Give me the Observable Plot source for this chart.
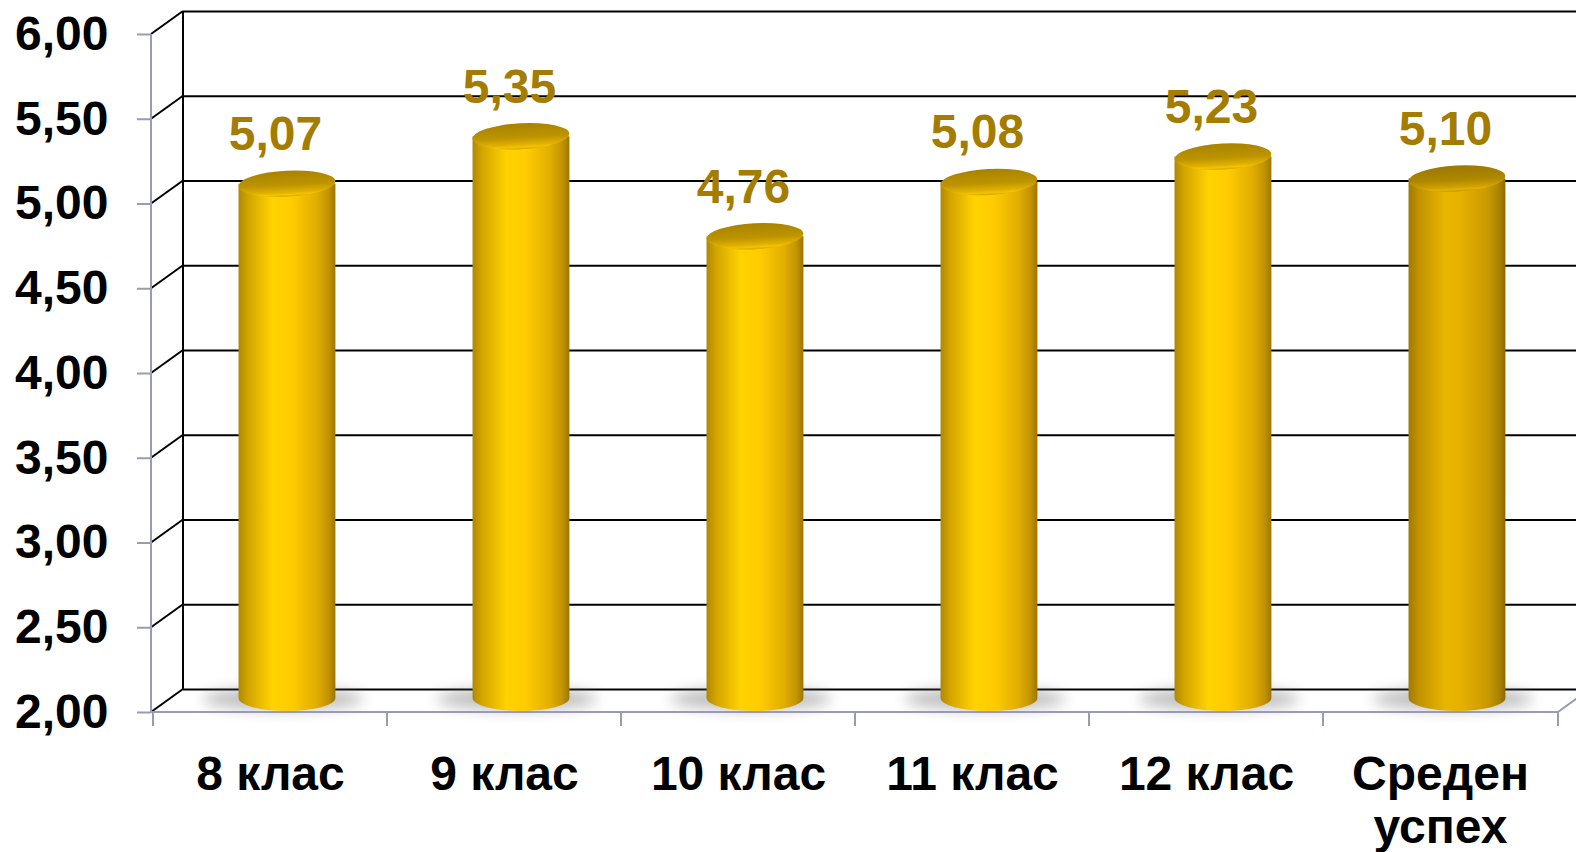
<!DOCTYPE html>
<html><head><meta charset="utf-8">
<script src="https://cdn.jsdelivr.net/npm/d3@7"></script>
<script src="https://cdn.jsdelivr.net/npm/@observablehq/plot@0.6"></script>
<style>html,body{margin:0;padding:0;background:#fff;overflow:hidden}</style>
</head><body><div id="chart"></div>
<script>
// ---- data ----
const categories = ["8 клас", "9 клас", "10 клас", "11 клас", "12 клас", "Среден\nуспех"];
const values = [5.07, 5.35, 4.76, 5.08, 5.23, 5.10];
const yTicks = [2, 2.5, 3, 3.5, 4, 4.5, 5, 5.5, 6];
const fmt = d => d3.format(".2f")(d).replace(".", ",");

const data = categories.map((c, i) => ({category: c, value: values[i], average: i === categories.length - 1}));

// ---- style ----
const DEPTH_X = 32, DEPTH_Y = -23;
const AXIS_GREY = "#9a9ab6";
const FONT = "'Liberation Sans', Arial, Helvetica, sans-serif";
const yMin = d3.min(yTicks), yMax = d3.max(yTicks);

function walls(index, scales, vals, dim) {
  const {y} = scales;
  const x0 = dim.marginLeft;
  const g = d3.create("svg:g").attr("fill", "none").attr("stroke", "#000").attr("stroke-width", 2);
  g.selectAll("line.d").data(yTicks).join("line")
    .attr("x1", x0).attr("y1", d => y(d))
    .attr("x2", x0 + DEPTH_X).attr("y2", d => y(d) + DEPTH_Y);
  g.append("line")
    .attr("x1", x0 + DEPTH_X).attr("x2", x0 + DEPTH_X)
    .attr("y1", y(yMax) + DEPTH_Y).attr("y2", y(yMin) + DEPTH_Y);
  return g.node();
}

function cylinders(index, scales, vals, dim) {
  const {x, y} = scales;
  const bw = x.bandwidth();
  const rx = bw * 0.207, ry = 13;
  const g = d3.create("svg:g");
  const defs = g.append("defs");
  const lin = (id, stops, vertical) => {
    const gr = defs.append("linearGradient").attr("id", id)
      .attr("x1", 0).attr("y1", 0).attr("x2", vertical ? 0 : 1).attr("y2", vertical ? 1 : 0);
    stops.forEach(([o, c]) => gr.append("stop").attr("offset", o).attr("stop-color", c));
  };
  lin("bodyG", [[0, "#B08800"], [0.1, "#D3A500"], [0.35, "#FFD200"], [0.55, "#FFCC00"], [0.8, "#E2AE00"], [0.93, "#C29300"], [1, "#9A7500"]]);
  lin("bodyA", [[0, "#A07A00"], [0.1, "#C09200"], [0.38, "#EAB500"], [0.55, "#E6B000"], [0.82, "#C89900"], [0.94, "#A98100"], [1, "#8A6800"]]);
  lin("topG", [[0, "#A88200"], [0.55, "#BD9400"], [0.82, "#E0B000"], [0.92, "#F2C400"], [1, "#D0A400"]], true);
  lin("topA", [[0, "#9C7800"], [0.55, "#AE8800"], [0.82, "#CFA000"], [0.92, "#E2B200"], [1, "#C09400"]], true);
  defs.append("filter").attr("id", "blur").attr("x", "-50%").attr("y", "-100%").attr("width", "200%").attr("height", "300%")
    .append("feGaussianBlur").attr("stdDeviation", 7);

  data.forEach(d => {
    const cx = x(d.category) + bw / 2 + DEPTH_X * 0.53;
    const yTop = y(d.value) - 8;
    const yBot = y(yMin) - 14;
    g.append("ellipse").attr("cx", cx - 4).attr("cy", yBot + 1).attr("rx", rx + 32).attr("ry", 11)
      .attr("fill", "#707070").attr("opacity", 0.45).attr("filter", "url(#blur)");
    g.append("path")
      .attr("d", `M${cx - rx},${yTop} L${cx - rx},${yBot} A${rx},${ry} 0 0 0 ${cx + rx},${yBot} L${cx + rx},${yTop} Z`)
      .attr("fill", d.average ? "url(#bodyA)" : "url(#bodyG)");
    g.append("ellipse").attr("cx", cx).attr("cy", yTop).attr("rx", rx).attr("ry", ry)
      .attr("transform", `rotate(-3 ${cx} ${yTop})`)
      .attr("fill", d.average ? "url(#topA)" : "url(#topG)");
  });
  return g.node();
}

function frontFrame(index, scales, vals, dim) {
  const {x, y} = scales;
  const x0 = dim.marginLeft, x1 = dim.width - dim.marginRight;
  const yb = y(yMin);
  const g = d3.create("svg:g").attr("fill", "none").attr("stroke", AXIS_GREY).attr("stroke-width", 2);
  g.append("line").attr("x1", x0).attr("x2", x0).attr("y1", y(yMax)).attr("y2", yb);
  g.append("line").attr("x1", x0).attr("x2", x1).attr("y1", yb).attr("y2", yb);
  g.append("line").attr("x1", x1).attr("x2", x1 + DEPTH_X).attr("y1", yb).attr("y2", yb + DEPTH_Y);
  const edges = categories.map(c => x(c)).concat([x1]);
  g.selectAll("line.t").data(edges).join("line")
    .attr("x1", d => d).attr("x2", d => d).attr("y1", yb).attr("y2", yb + 14);
  return g.node();
}

const chart = Plot.plot({
  width: 1576, height: 852,
  marginLeft: 151, marginRight: 18, marginTop: 34, marginBottom: 140,
  x: {type: "band", domain: categories, padding: 0},
  y: {domain: [yMin, yMax]},
  style: {fontFamily: FONT, background: "white", overflow: "hidden"},
  marks: [
    Plot.ruleY(yTicks, {dx: DEPTH_X, dy: DEPTH_Y, stroke: "#000", strokeWidth: 2}),
    walls,
    cylinders,
    frontFrame,
    Plot.text(data, {x: "category", y: "value", text: d => fmt(d.value), dx: 5, dy: -42,
      lineAnchor: "bottom", fill: "#A47D00", fontSize: 48, fontWeight: "bold"}),
    Plot.axisY(yTicks, {tickSize: 14, tickPadding: 29, tickFormat: fmt, stroke: AXIS_GREY, strokeWidth: 2,
      fontSize: 48, fontWeight: "bold", fill: "#000", label: null}),
    Plot.axisX({tickSize: 0, tickPadding: 40, fontSize: 48, fontWeight: "bold", lineHeight: 1.1, label: null, fill: "#000"})
  ]
});
document.getElementById("chart").appendChild(chart);
</script>
</body></html>
